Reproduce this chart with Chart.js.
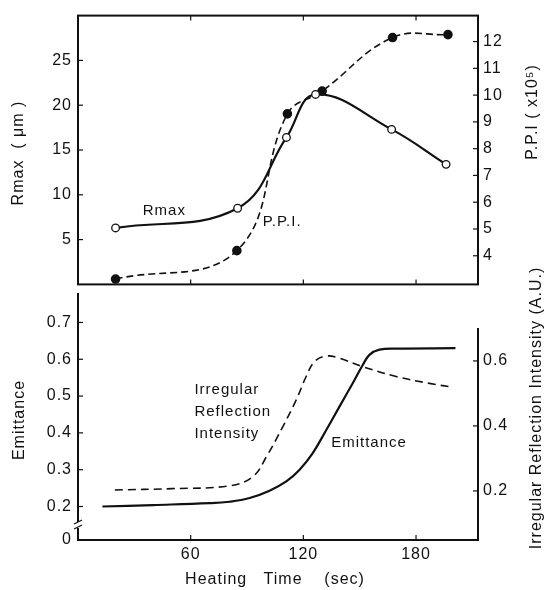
<!DOCTYPE html>
<html>
<head>
<meta charset="utf-8">
<script src="https://cdn.jsdelivr.net/npm/chart.js@4.4.0/dist/chart.umd.min.js"></script>
<style>
body { margin: 0; background: #fff; }
#wrap { position: relative; width: 549px; height: 590px; }
#topChart { position: absolute; left: 0; top: 0; }
#bottomChart { position: absolute; left: 0; top: 260px; }
</style>
</head>
<body>
<div id="wrap">
  <canvas id="topChart" width="549" height="300"></canvas>
  <canvas id="bottomChart" width="549" height="330"></canvas>
</div>
<script>
// Data (heating time in sec)
const rmaxTime = [20, 85, 111, 126.5, 167, 196];
const rmaxValues = [6.3, 8.5, 16.4, 21.2, 17.3, 13.4];
const ppiTime = [20, 84.6, 111.5, 130, 167.5, 197];
const ppiValues = [3.13, 4.19, 9.3, 10.15, 12.15, 12.26];

const emitTime = [13, 40, 70, 80.7, 91.4, 102, 110.9, 118, 125, 132.2, 139.3, 146.3, 151.7, 155.2, 160.5, 169.4, 201];
const emitValues = [0.200, 0.204, 0.209, 0.213, 0.223, 0.243, 0.268, 0.300, 0.345, 0.408, 0.472, 0.535, 0.585, 0.612, 0.626, 0.629, 0.630];
const irrTime = [19.6, 50, 81, 93.1, 100.3, 109.1, 116.2, 121.5, 126, 132.2, 139.3, 151.7, 169.4, 187.1, 199.5];
const irrValues = [0.203, 0.207, 0.216, 0.244, 0.305, 0.398, 0.48, 0.552, 0.598, 0.615, 0.608, 0.582, 0.552, 0.531, 0.519];

// Tick labels
const timeTicks = [60, 120, 180];
const rmaxTicks = [5, 10, 15, 20, 25];
const ppiTicks = [4, 5, 6, 7, 8, 9, 10, 11, 12];
const emitTicks = [0.2, 0.3, 0.4, 0.5, 0.6, 0.7];
const irrTicks = [0.2, 0.4, 0.6];

const FONT = 'Liberation Sans, Arial, sans-serif';
const INK = '#111';
const EMIT_MIN = 0.109; // broken axis, bottom shows "0"

function pts(xs, ys) {
    return xs.map((x, i) => ({ x: x, y: ys[i] }));
}

function fixedTicks(list) {
    return function(scale) {
        scale.ticks = list.map(v => ({ value: v }));
    };
}

function yAxis(pos, min, max, list, width, pad, fmt) {
    return {
        position: pos,
        min: min,
        max: max,
        afterBuildTicks: fixedTicks(list),
        afterFit: function(scale) { scale.width = width; },
        grid: { display: false, drawTicks: false },
        border: { display: false },
        ticks: {
            color: INK,
            padding: pad,
            font: { family: FONT, size: 16 },
            callback: fmt || (v => v)
        }
    };
}

// wider lettering like the original figure
const spacing = {
    id: 'spacing',
    beforeDraw(chart) { chart.ctx.letterSpacing = '1px'; }
};

// Draw a rotated text label
function vText(ctx, text, x, y) {
    ctx.save();
    ctx.translate(x, y);
    ctx.rotate(-Math.PI / 2);
    ctx.textAlign = 'center';
    ctx.textBaseline = 'middle';
    ctx.fillText(text, 0, 0);
    ctx.restore();
}

// Inward tick marks along an axis
function tickMarks(ctx, scale, list, side, area) {
    const len = 5;
    list.forEach(v => {
        const p = scale.getPixelForValue(v);
        ctx.beginPath();
        if (side === 'left') { ctx.moveTo(area.left, p); ctx.lineTo(area.left + len, p); }
        if (side === 'right') { ctx.moveTo(area.right, p); ctx.lineTo(area.right - len, p); }
        if (side === 'bottom') { ctx.moveTo(p, area.bottom); ctx.lineTo(p, area.bottom - len); }
        if (side === 'top') { ctx.moveTo(p, area.top); ctx.lineTo(p, area.top + len); }
        ctx.stroke();
    });
}

const topDecor = {
    id: 'topDecor',
    afterDraw(chart) {
        const ctx = chart.ctx;
        const a = chart.chartArea;
        const s = chart.scales;
        ctx.save();
        ctx.letterSpacing = '1px';
        ctx.strokeStyle = INK;
        ctx.lineWidth = 2;
        ctx.strokeRect(a.left, a.top, a.right - a.left, a.bottom - a.top);
        ctx.lineWidth = 1.2;
        tickMarks(ctx, s.x, timeTicks, 'top', a);
        tickMarks(ctx, s.x, timeTicks, 'bottom', a);
        tickMarks(ctx, s.yR, rmaxTicks, 'left', a);
        tickMarks(ctx, s.yP, ppiTicks, 'right', a);

        ctx.fillStyle = INK;
        ctx.font = '16px ' + FONT;
        vText(ctx, 'Rmax  ( \u03bcm )', 19, 153);
        vText(ctx, 'P.P.I ( x10\u2075)', 533, 112);

        // curve labels
        ctx.font = '15px ' + FONT;
        ctx.textBaseline = 'middle';
        ctx.textAlign = 'left';
        ctx.fillText('Rmax', s.x.getPixelForValue(34.5), s.yR.getPixelForValue(8.2));
        ctx.fillText('P.P.I.', s.x.getPixelForValue(98.4), s.yR.getPixelForValue(7.0));
        ctx.restore();
    }
};

const bottomDecor = {
    id: 'bottomDecor',
    afterDraw(chart) {
        const ctx = chart.ctx;
        const a = chart.chartArea;
        const s = chart.scales;
        ctx.save();
        ctx.letterSpacing = '1px';
        ctx.strokeStyle = INK;
        ctx.lineWidth = 2;
        ctx.beginPath();
        ctx.moveTo(a.left, a.top);
        ctx.lineTo(a.left, a.bottom);
        ctx.lineTo(a.right, a.bottom);
        ctx.lineTo(a.right, a.top + 35);
        ctx.stroke();
        ctx.lineWidth = 1.2;
        tickMarks(ctx, s.x, timeTicks, 'bottom', a);
        tickMarks(ctx, s.yE, emitTicks, 'left', a);
        tickMarks(ctx, s.yI, irrTicks, 'right', a);

        // axis break mark
        const by = a.bottom - 15;
        ctx.fillStyle = '#fff';
        ctx.fillRect(a.left - 3, by - 3, 6, 6);
        ctx.beginPath();
        ctx.moveTo(a.left - 4, by - 1); ctx.lineTo(a.left + 4, by - 5);
        ctx.moveTo(a.left - 4, by + 4); ctx.lineTo(a.left + 4, by);
        ctx.stroke();

        ctx.fillStyle = INK;
        ctx.font = '16px ' + FONT;
        vText(ctx, 'Emittance', 20, 160);
        vText(ctx, 'Irregular Reflection Intensity (A.U.)', 537, 148);
        ctx.textAlign = 'center';
        ctx.textBaseline = 'middle';
        ctx.fillText('Heating   Time    (sec)', 275, 320);

        ctx.font = '15px ' + FONT;
        ctx.textAlign = 'left';
        const lx = s.x.getPixelForValue(62);
        ctx.fillText('Irregular', lx, s.yE.getPixelForValue(0.517));
        ctx.fillText('Reflection', lx, s.yE.getPixelForValue(0.458));
        ctx.fillText('Intensity', lx, s.yE.getPixelForValue(0.397));
        ctx.fillText('Emittance', s.x.getPixelForValue(134.8), s.yE.getPixelForValue(0.373));
        ctx.restore();
    }
};

new Chart(document.getElementById('topChart'), {
    type: 'line',
    data: {
        datasets: [
            {
                label: 'Rmax',
                data: pts(rmaxTime, rmaxValues),
                yAxisID: 'yR',
                borderColor: INK,
                borderWidth: 2.2,
                tension: 0.4,
                pointRadius: 3.8,
                pointBackgroundColor: '#fff',
                pointBorderColor: INK,
                pointBorderWidth: 1.3
            },
            {
                label: 'P.P.I.',
                data: pts(ppiTime, ppiValues),
                yAxisID: 'yP',
                borderColor: INK,
                borderWidth: 1.6,
                borderDash: [7, 4],
                tension: 0.4,
                pointRadius: 4,
                pointBackgroundColor: INK,
                pointBorderColor: INK
            }
        ]
    },
    options: {
        responsive: false,
        animation: false,
        layout: { padding: { top: 9, bottom: 7, left: 0, right: 0 } },
        plugins: { legend: { display: false }, tooltip: { enabled: false } },
        scales: {
            x: { type: 'linear', min: 0, max: 213, display: false },
            yR: yAxis('left', 0, 30, rmaxTicks, 78, 6),
            yP: yAxis('right', 2.93, 12.97, ppiTicks, 71, 5)
        }
    },
    plugins: [spacing, topDecor]
});

new Chart(document.getElementById('bottomChart'), {
    type: 'line',
    data: {
        datasets: [
            {
                label: 'Emittance',
                data: pts(emitTime, emitValues),
                yAxisID: 'yE',
                borderColor: INK,
                borderWidth: 2.2,
                tension: 0.4,
                pointRadius: 0
            },
            {
                label: 'Irregular Reflection Intensity',
                data: pts(irrTime, irrValues),
                yAxisID: 'yI',
                borderColor: INK,
                borderWidth: 1.6,
                borderDash: [8, 5],
                tension: 0.4,
                pointRadius: 0
            }
        ]
    },
    options: {
        responsive: false,
        animation: false,
        layout: { padding: { top: 33, bottom: 0, left: 0, right: 0 } },
        plugins: { legend: { display: false }, tooltip: { enabled: false } },
        scales: {
            x: {
                type: 'linear',
                min: 0,
                max: 213,
                afterBuildTicks: fixedTicks(timeTicks),
                afterFit: function(scale) { scale.height = 50; },
                grid: { display: false, drawTicks: false },
                border: { display: false },
                ticks: { color: INK, padding: 5, maxRotation: 0, font: { family: FONT, size: 16 } }
            },
            yE: yAxis('left', EMIT_MIN, 0.78, [EMIT_MIN].concat(emitTicks), 78, 6,
                v => (v < 0.15 ? '0' : v.toFixed(1))),
            yI: yAxis('right', 0.049, 0.809, irrTicks, 71, 5, v => v.toFixed(1))
        }
    },
    plugins: [spacing, bottomDecor]
});
</script>
</body>
</html>
